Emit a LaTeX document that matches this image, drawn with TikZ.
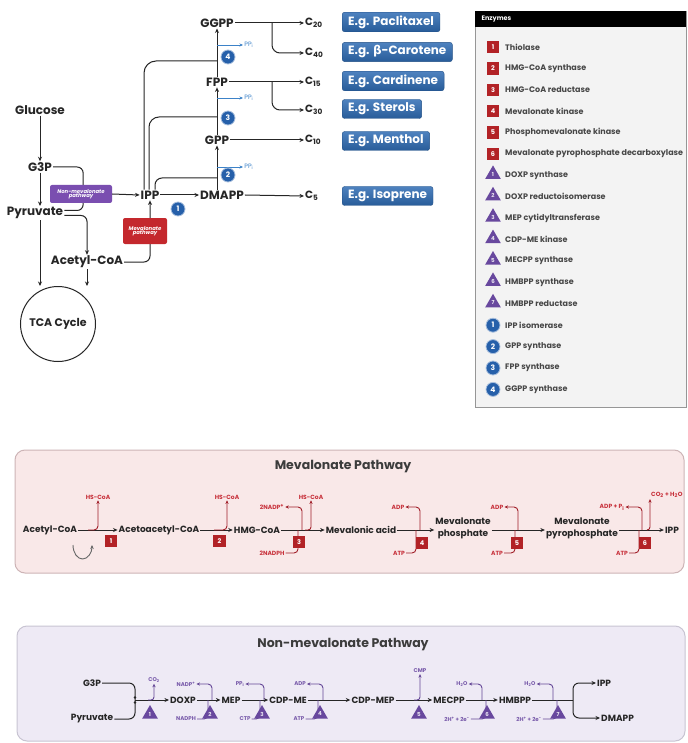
\documentclass[tikz,border=0pt]{standalone}
\usepackage{fontspec}
\setmainfont{Poppins}
\newfontfamily\grk{DejaVu Sans}
\usetikzlibrary{arrows.meta,calc,shapes.geometric}
\definecolor{txt}{RGB}{38,38,38}
\definecolor{ebox}{RGB}{47,108,180}
\definecolor{ecirc}{RGB}{38,96,170}
\definecolor{ppi}{RGB}{60,130,200}
\definecolor{nmbox}{RGB}{122,78,176}
\definecolor{mvbox}{RGB}{196,40,45}
\definecolor{sq}{RGB}{178,34,38}
\definecolor{tri}{RGB}{104,72,158}
\definecolor{mvlab}{RGB}{200,50,60}
\definecolor{mvarr}{RGB}{160,30,40}
\definecolor{nmlab}{RGB}{120,90,170}
\definecolor{nmarr}{RGB}{100,70,150}
\definecolor{mvfill}{RGB}{249,232,232}
\definecolor{mvedge}{RGB}{205,180,182}
\definecolor{nmfill}{RGB}{238,234,245}
\definecolor{nmedge}{RGB}{200,196,210}
\definecolor{legfill}{RGB}{243,243,243}
\definecolor{legedge}{RGB}{150,150,150}
\begin{document}
\begin{tikzpicture}[x=1pt,y=-1pt,
 ln/.style={line width=1pt, draw=txt},
 arr/.style={ln, -{Stealth[length=4.5pt,width=4pt]}},
 lbl/.style={font=\fontsize{12}{14}\selectfont\bfseries, text=txt, inner sep=1pt},
 clbl/.style={font=\fontsize{10.5}{12}\selectfont\bfseries, text=txt, inner sep=1pt, anchor=west},
 ebx/.style={top color=ebox!85!white, bottom color=ebox!85!black, draw=ebox!75!black, line width=0.4pt, rounded corners=2.5pt, text=white, font=\fontsize{12}{14}\selectfont\bfseries, minimum height=19pt, inner xsep=6pt, anchor=west},
 ecn/.style={circle, fill=ecirc, draw=ecirc!40!white, line width=0.8pt, text=white, font=\fontsize{7.5}{8}\selectfont\bfseries, minimum size=14pt, inner sep=0pt},
 parr/.style={line width=0.9pt, draw=ppi, -{Stealth[length=3.5pt,width=3pt]}},
 pplbl/.style={font=\fontsize{6.3}{7}\selectfont, text=ppi, anchor=west, inner sep=1pt},
 pwbox/.style={rounded corners=2pt, text=white, font=\fontsize{5.3}{6}\selectfont\bfseries\itshape, align=center, inner sep=1pt},
 legt/.style={font=\fontsize{8}{9}\selectfont\bfseries, text=txt!85, anchor=west, inner sep=0pt},
 sqr/.style={fill=sq, minimum size=12.5pt, inner sep=0pt, text=white, font=\fontsize{6.5}{7}\selectfont\bfseries},
 trn/.style={regular polygon, regular polygon sides=3, fill=tri, minimum size=18pt, inner sep=0pt, text=white!85!tri, font=\fontsize{5.5}{6}\selectfont\bfseries},
 mrow/.style={font=\fontsize{9}{12.5}\selectfont\bfseries, text=txt, inner sep=1pt, align=center},
 mlab/.style={font=\fontsize{6}{7}\selectfont\bfseries, text=mvlab, inner sep=1pt},
 rarr/.style={line width=0.9pt, draw=mvarr, -{Stealth[length=3.5pt,width=3.2pt]}, rounded corners=4pt},
 rln/.style={line width=0.9pt, draw=mvarr, rounded corners=4pt},
 nrow/.style={font=\fontsize{9}{10}\selectfont\bfseries, text=txt, inner sep=1pt},
 nlab/.style={font=\fontsize{5.5}{6}\selectfont\bfseries, text=nmlab, inner sep=1pt},
 narr/.style={line width=0.9pt, draw=nmarr, -{Stealth[length=3.5pt,width=3.2pt]}, rounded corners=4pt},
 nln/.style={line width=0.9pt, draw=nmarr, rounded corners=4pt},
 title/.style={font=\fontsize{12.5}{14}\selectfont\bfseries, text=txt!90}
]
\useasboundingbox (0,0) rectangle (687,743);
\fill[white] (0,0) rectangle (687,743);

% ---------------- top left ----------------
\node[lbl] (glu) at (40,110) {Glucose};
\node[lbl] (g3p) at (40,167) {G3P};
\node[lbl] (pyr) at (35,213) {Pyruvate};
\node[lbl] (acoa) at (87,262) {Acetyl-CoA};
\node[circle, draw=txt, line width=1pt, minimum size=75pt, lbl, font=\fontsize{11}{13}\selectfont\bfseries] (tca) at (58,324) {TCA Cycle};
\node[lbl] (ipp) at (150,195) {IPP};
\node[lbl] (dmapp) at (222,195) {DMAPP};
\node[lbl] (gpp) at (217,140) {GPP};
\node[lbl] (fpp) at (217,82) {FPP};
\node[lbl] (ggpp) at (217,23) {GGPP};

\draw[arr] (glu) -- (g3p);
\draw[arr] (g3p.south) -- (g3p.south |- pyr.north);
\draw[ln, rounded corners=6pt] (g3p.east) -- ++(30,0) |- ([yshift=2.5pt]pyr.east);
\draw[arr, rounded corners=6pt] ([yshift=-2.5pt]pyr.east) -| (acoa.north);
\draw[arr] (g3p.south |- pyr.south) -- (g3p.south |- tca.north);
\draw[arr] (acoa.south) -- (acoa.south |- tca.north);
\draw[arr, rounded corners=6pt] (acoa.east) -| (ipp.south);
\node[pwbox, fill=nmbox, minimum width=62pt, minimum height=18pt] (nmp) at (81,194) {Non-mevalonate\\[-1.5pt]pathway};
\node[pwbox, fill=mvbox, minimum width=44pt, minimum height=26pt] (mvp) at (145,231) {Mevalonate\\[-1.5pt]pathway};
\draw[arr] (nmp.east) -- (ipp.west);
\draw[arr] (ipp.east) -- (dmapp.west);

% IPP feeding lines
\coordinate (j1) at (217,178);
\coordinate (j2) at (217,117);
\coordinate (j3) at (217,61);
\draw[ln, rounded corners=7pt] ([xshift=5pt]ipp.north) |- (j1);
\draw[ln, rounded corners=10pt] ([xshift=-1pt]ipp.north) |- (j2);
\draw[ln, rounded corners=12pt] ([xshift=-6pt]ipp.north) |- (j3);
\draw[arr] (gpp.south |- dmapp.north) -- (gpp.south);
\draw[arr] (gpp.north) -- (fpp.south);
\draw[arr] (fpp.north) -- (ggpp.south);
\coordinate (pp1) at (217,167);
\coordinate (pp2) at (217,98);
\coordinate (pp3) at (217,45);
\draw[parr] (pp1) -- ++(26,0) node[pplbl] (ppl1) {PP\textsubscript{i}};
\draw[parr] (pp2) -- ++(26,0) node[pplbl] (ppl2) {PP\textsubscript{i}};
\draw[parr] (pp3) -- ++(26,0) node[pplbl] (ppl3) {PP\textsubscript{i}};
\node[ecn] (e1) at (178,209) {1};
\node[ecn] (e2) at (228,175) {2};
\node[ecn] (e3) at (228,118) {3};
\node[ecn] (e4) at (228,57) {4};

% products
\node[clbl] (c20) at (304,23) {C\textsubscript{20}};
\node[clbl] (c40) at (304,53) {C\textsubscript{40}};
\node[clbl] (c15) at (304,82) {C\textsubscript{15}};
\node[clbl] (c30) at (304,110) {C\textsubscript{30}};
\node[clbl] (c10) at (304,140) {C\textsubscript{10}};
\node[clbl] (c5) at (304,196) {C\textsubscript{5}};
\coordinate (b20) at (272,23);
\coordinate (b15) at (272,82);
\draw[arr] (ggpp.east) -- (c20.west);
\draw[arr, rounded corners=8pt] (b20) |- (c40.west);
\draw[arr] (fpp.east) -- (c15.west);
\draw[arr, rounded corners=8pt] (b15) |- (c30.west);
\draw[arr] (gpp.east) -- (c10.west);
\draw[arr] (dmapp.east) -- (c5.west);
\node[ebx] (x20) at (342,22) {E.g. Paclitaxel};
\node[ebx] (x40) at (342,52) {E.g. {\grk\bfseries β}-Carotene};
\node[ebx] (x15) at (342,81) {E.g. Cardinene};
\node[ebx] (x30) at (342,109) {E.g. Sterols};
\node[ebx] (x10) at (342,141) {E.g. Menthol};
\node[ebx] (x5) at (342,196) {E.g. Isoprene};

% ---------------- legend ----------------
\draw[legedge, fill=legfill, line width=0.8pt] (475,11) rectangle (686,407);
\fill[black] (475,11) rectangle (686,27);
\node[font=\fontsize{6.5}{7}\selectfont\bfseries, text=white, anchor=west] (enz) at (478,19) {Enzymes};
\foreach \i/\t in {1/Thiolase, 2/HMG-CoA synthase, 3/HMG-CoA reductase, 4/Mevalonate kinase, 5/Phosphomevalonate kinase, 6/Mevalonate pyrophosphate decarboxylase}{
  \node[sqr] (lsq\i) at (493,{47+21.4*(\i-1)}) {\i};
  \node[legt] (lsqt\i) at (505,{47+21.4*(\i-1)}) {\t};
}
\foreach \i/\t in {1/DOXP synthase, 2/DOXP reductoisomerase, 3/MEP cytidyltransferase, 4/CDP-ME kinase, 5/MECPP synthase, 6/HMBPP synthase, 7/HMBPP reductase}{
  \node[trn] (ltr\i) at (493,{47+21.4*(\i+5)-1}) {\i};
  \node[legt] (ltrt\i) at (505,{47+21.4*(\i+5)}) {\t};
}
\foreach \i/\t in {1/IPP isomerase, 2/GPP synthase, 3/FPP synthase, 4/GGPP synthase}{
  \node[ecn] (lci\i) at (493,{47+21.4*(\i+12)}) {\i};
  \node[legt] (lcit\i) at (505,{47+21.4*(\i+12)}) {\t};
}

% ---------------- Mevalonate pathway ----------------
\draw[mvedge, fill=mvfill, rounded corners=10pt, line width=1pt] (15,450) rectangle (684,573);
\node[title] (mvt) at (343,467) {Mevalonate Pathway};
\node[mrow] (m1) at (50,530) {Acetyl-CoA};
\node[mrow] (m2) at (159,530) {Acetoacetyl-CoA};
\node[mrow] (m3) at (257,530) {HMG-CoA};
\node[mrow] (m4) at (361,530) {Mevalonic acid};
\node[mrow] (m5) at (463,528.5) {Mevalonate\\phosphate};
\node[mrow] (m6) at (582,528.5) {Mevalonate\\pyrophosphate};
\node[mrow] (m7) at (672,530) {IPP};
\draw[arr] (m1.east) -- (m2.west);
\draw[arr] (m2.east) -- (m3.west);
\draw[arr] (m3.east) -- (m4.west);
\draw[arr] (m4.east) -- (m4.east -| m5.west);
\draw[arr] (m5.east |- m4.east) -- (m4.east -| m6.west);
\draw[arr] (m6.east |- m4.east) -- (m7.west);
\draw[-{Stealth[length=4pt,width=3.5pt]}, line width=0.9pt, draw=txt!70] (73,545) arc[start angle=180, end angle=0, x radius=9.5, y radius=14];
% step 1
\node[mlab] (hs1) at (98,497) {HS-CoA};
\draw[rarr] (88,530) -| (hs1.south);
% step 2
\node[mlab] (hs2) at (227,497) {HS-CoA};
\draw[rarr] (214,530) -| (hs2.south);
% step 3
\node[mlab] (nadp3) at (272,507) {2NADP\textsuperscript{+}};
\node[mlab] (hs3) at (311,497) {HS-CoA};
\node[mlab] (nadph3) at (272,553) {2NADPH};
\draw[rarr] (302,530) |- (nadp3.east);
\draw[rarr, rounded corners=3pt] (305,530) -| (hs3.south);
\draw[rln] (nadph3.east) -| (298,530);
% step 4
\node[mlab] (adp4) at (398,507) {ADP};
\node[mlab] (atp4) at (399,553) {ATP};
\draw[rarr] (420,530) |- (adp4.east);
\draw[rln] (atp4.east) -| (416,530);
% step 5
\node[mlab] (adp5) at (497,507) {ADP};
\node[mlab] (atp5) at (497,553) {ATP};
\draw[rarr] (518,530) |- (adp5.east);
\draw[rln] (atp5.east) -| (515,530);
% step 6
\node[mlab] (adp6) at (612,507) {ADP + P\textsubscript{i}};
\node[mlab, anchor=west] (co26) at (650,495) {CO\textsubscript{2} + H\textsubscript{2}O};
\node[mlab] (atp6) at (622,553) {ATP};
\draw[rarr] (642,530) |- (adp6.east);
\draw[rarr, rounded corners=3pt] (647,530) -| (co26.south west);
\draw[rln] (atp6.east) -| (639,530);
\node[sqr] (s1) at (111,541) {1};
\node[sqr] (s2) at (219.5,541) {2};
\node[sqr] (s3) at (299,542) {3};
\node[sqr] (s4) at (422,543) {4};
\node[sqr] (s5) at (517,543) {5};
\node[sqr] (s6) at (645,543) {6};

% ---------------- Non-mevalonate pathway ----------------
\draw[nmedge, fill=nmfill, rounded corners=10pt, line width=1pt] (17,626) rectangle (685,741);
\node[title] (nmt) at (343,645) {Non-mevalonate Pathway};
\coordinate (brk) at (135,700);
\node[nrow] (g3pn) at (92,683) {G3P};
\node[nrow] (pyrn) at (92,719) {Pyruvate};
\node[nrow] (doxp) at (183,700) {DOXP};
\node[nrow] (mep) at (231,700) {MEP};
\node[nrow] (cdpme) at (288,700) {CDP-ME};
\node[nrow] (cdpmep) at (373,700) {CDP-MEP};
\node[nrow] (mecpp) at (449,700) {MECPP};
\node[nrow] (hmbpp) at (515,700) {HMBPP};
\node[nrow, anchor=west] (ippn) at (596,683) {IPP};
\node[nrow, anchor=west] (dmappn) at (600,718) {DMAPP};
\draw[ln, rounded corners=6pt] (g3pn.east) -| (brk) |- (pyrn.east);
\fill[txt] ([yshift=2.5pt]brk) circle (1.3pt) ([yshift=-2.5pt]brk) circle (1.3pt);
\draw[arr] (brk) -- (doxp.west);
\draw[arr] (doxp.east) -- (mep.west);
\draw[arr] (mep.east) -- (cdpme.west);
\draw[arr] (cdpme.east) -- (cdpmep.west);
\draw[arr] (cdpmep.east) -- (mecpp.west);
\draw[arr] (mecpp.east) -- (hmbpp.west);
\coordinate (brk2) at (573,700);
\draw[ln] (hmbpp.east) -- (brk2);
\draw[arr, rounded corners=6pt] (brk2) |- (ippn.west);
\draw[arr, rounded corners=6pt] (brk2) |- (dmappn.west);
% labels
\node[nlab] (co2n) at (154,680) {CO\textsubscript{2}};
\draw[narr, rounded corners=3pt] (148,700) -| (co2n.south);
\node[nlab] (nadpn) at (186,684) {NADP\textsuperscript{+}};
\node[nlab] (nadphn) at (186,719) {NADPH};
\draw[narr] (212,700) |- (nadpn.east);
\draw[nln] (nadphn.east) -| (208,700);
\node[nlab] (ppin) at (240,684) {PP\textsubscript{i}};
\node[nlab] (ctpn) at (245,719) {CTP};
\draw[narr] (264,700) |- (ppin.east);
\draw[nln] (ctpn.east) -| (260,700);
\node[nlab] (adpn) at (300,684) {ADP};
\node[nlab] (atpn) at (299,719) {ATP};
\draw[narr] (323,700) |- (adpn.east);
\draw[nln] (atpn.east) -| (318,700);
\node[nlab] (cmpn) at (420,671) {CMP};
\draw[narr, rounded corners=3pt] (414,700) -| (cmpn.south);
\node[nlab] (h2o1) at (462,684) {H\textsubscript{2}O};
\node[nlab] (e2n1) at (457,719) {2H\textsuperscript{+} + 2e\textsuperscript{-}};
\draw[narr] (482,700) |- (h2o1.east);
\draw[nln] (e2n1.east) -| (486,700);
\node[nlab] (h2o2) at (530,684) {H\textsubscript{2}O};
\node[nlab] (e2n2) at (529,719) {2H\textsuperscript{+} + 2e\textsuperscript{-}};
\draw[narr] (553,700) |- (h2o2.east);
\draw[nln] (e2n2.east) -| (557,700);
\node[trn] (t1) at (150,714) {1};
\node[trn] (t2) at (210,714) {2};
\node[trn] (t3) at (262,714) {3};
\node[trn] (t4) at (320,714) {4};
\node[trn] (t5) at (419,714) {5};
\node[trn] (t6) at (487,714) {6};
\node[trn] (t7) at (558,714) {7};
\end{tikzpicture}
\end{document}
